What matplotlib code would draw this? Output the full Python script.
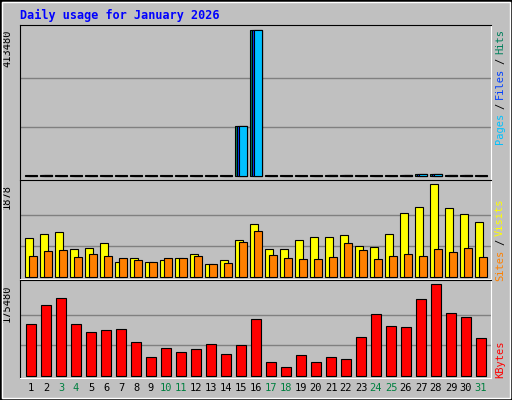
import numpy as np
import matplotlib
matplotlib.use("Agg")
import matplotlib.pyplot as plt
from matplotlib.patches import Rectangle

days = list(range(1, 32))
weekend = [3, 4, 10, 11, 17, 18, 24, 25, 31]

hits = [1500, 3500, 1500, 1500, 1500, 1500, 1500, 1500, 1500, 1500, 1500, 1500, 1500, 1500,
        141000, 413480, 1500, 1500, 1500, 1500, 3500, 3500, 1500, 1500, 1500, 3500, 6500,
        6500, 3500, 3500, 1500]
files = [1200, 3000, 1200, 1200, 1200, 1200, 1200, 1200, 1200, 1200, 1200, 1200, 1200, 1200,
         140500, 413000, 1200, 1200, 1200, 1200, 3000, 3000, 1200, 1200, 1200, 3000, 6000,
         6000, 3000, 3000, 1200]
pages = [1000, 2800, 1000, 1000, 1000, 1000, 1000, 1000, 1000, 1000, 1000, 1000, 1000, 1000,
         140000, 412500, 1000, 1000, 1000, 1000, 2800, 2800, 1000, 1000, 1000, 2800, 5800,
         5800, 2800, 2800, 1000]
visits = [780, 881, 902, 576, 597, 698, 312, 393, 312, 353, 393, 475, 271, 353, 759, 1064,
          576, 576, 759, 820, 820, 841, 637, 617, 881, 1288, 1410, 1878, 1390, 1268, 1105]
sites = [434, 536, 556, 414, 475, 434, 393, 353, 312, 393, 393, 434, 271, 292, 719, 942,
         454, 393, 373, 373, 414, 698, 556, 373, 434, 475, 434, 576, 515, 597, 414]
kbytes = [98622, 135124, 148573, 98622, 83252, 87094, 89016, 65961, 37143, 54434, 46749,
          52513, 62119, 42907, 60198, 108228, 27537, 17931, 40986, 27537, 37143, 33301,
          75567, 117834, 94779, 92858, 146652, 175480, 119755, 112070, 73646]

GRAY = "#C0C0C0"
W, H = 512, 400
fig = plt.figure(figsize=(5.12, 4.0), dpi=100, facecolor=GRAY)
mono = "DejaVu Sans Mono"

# bevel border
fig.patches.append(Rectangle((0, 0), 1, 1, transform=fig.transFigure, fill=False,
                             edgecolor="black", linewidth=2))
fig.patches.append(Rectangle((2 / W, 2 / H), 1 - 4 / W, 1 - 4 / H, transform=fig.transFigure,
                             fill=False, edgecolor="white", linewidth=1))

x0 = np.array(days) * 15 + 10  # left pixel of each day's group


def panel(top, bottom, base, peak, vmax):
    ax = fig.add_axes([20 / W, 1 - bottom / H, 471 / W, (bottom - top) / H])
    ax.set_facecolor(GRAY)
    s = vmax / (base - peak)
    ax.set_ylim(-(bottom - base) * s, (base - top) * s)
    ax.set_xlim(20, 491)
    ax.set_xticks([])
    ax.set_yticks([])
    for k in (1 / 3, 2 / 3):
        ax.axhline(vmax * k, color="#808080", linewidth=1, zorder=0)
    for sp in ("left", "top"):
        ax.spines[sp].set_color("black")
    for sp in ("right", "bottom"):
        ax.spines[sp].set_color("white")
    ax.text(7, vmax, f"{vmax}", rotation=90, ha="center", va="top",
            fontsize=7.5, family=mono, clip_on=False)
    return ax


ax1 = panel(25, 180, 176, 29.5, 413480)
kw = dict(align="edge", edgecolor="black", linewidth=0.8)
ax1.bar(x0, hits, width=12, color="#00805C", **kw)
ax1.bar(x0 + 2, files, width=10, color="#0040FF", **kw)
ax1.bar(x0 + 4, pages, width=8, color="#00C0FF", **kw)

ax2 = panel(180, 279, 277, 184.3, 1878)
ax2.bar(x0, visits, width=8, color="#FFFF00", **kw)
ax2.bar(x0 + 4, sites, width=7.5, color="#FF8000", **kw)

ax3 = panel(280, 378, 376, 284.3, 175480)
ax3.bar(x0 + 1, kbytes, width=10, color="#FF0000", **kw)
for d, x in zip(days, x0):
    ax3.text(x + 6, -12 * 175480 / 91.7, str(d), ha="center", va="center", fontsize=7.5,
             family=mono, color="#008040" if d in weekend else "black", clip_on=False)

fig.text(20 / W, 1 - 15 / H, "Daily usage for January 2026", color="#0000FF",
         fontsize=8.5, family=mono, weight="bold", va="center")


def side(labels, y_top):
    # rotated labels read bottom-to-top; list given from top of figure downward
    y = y_top
    for txt, col in labels:
        fig.text(500 / W, 1 - y / H, txt, color=col, rotation=90, fontsize=7.5,
                 family=mono, ha="center", va="top")
        y += len(txt) * 6.2 + 4


side([("Hits", "#00805C"), ("/", "black"), ("Files", "#0040FF"), ("/", "black"),
      ("Pages", "#00C0FF")], 29)
side([("Visits", "#FFFF00"), ("/", "black"), ("Sites", "#FF8000")], 198)
side([("KBytes", "#FF0000")], 340)

fig.savefig("out.png", dpi=100, facecolor=GRAY)
